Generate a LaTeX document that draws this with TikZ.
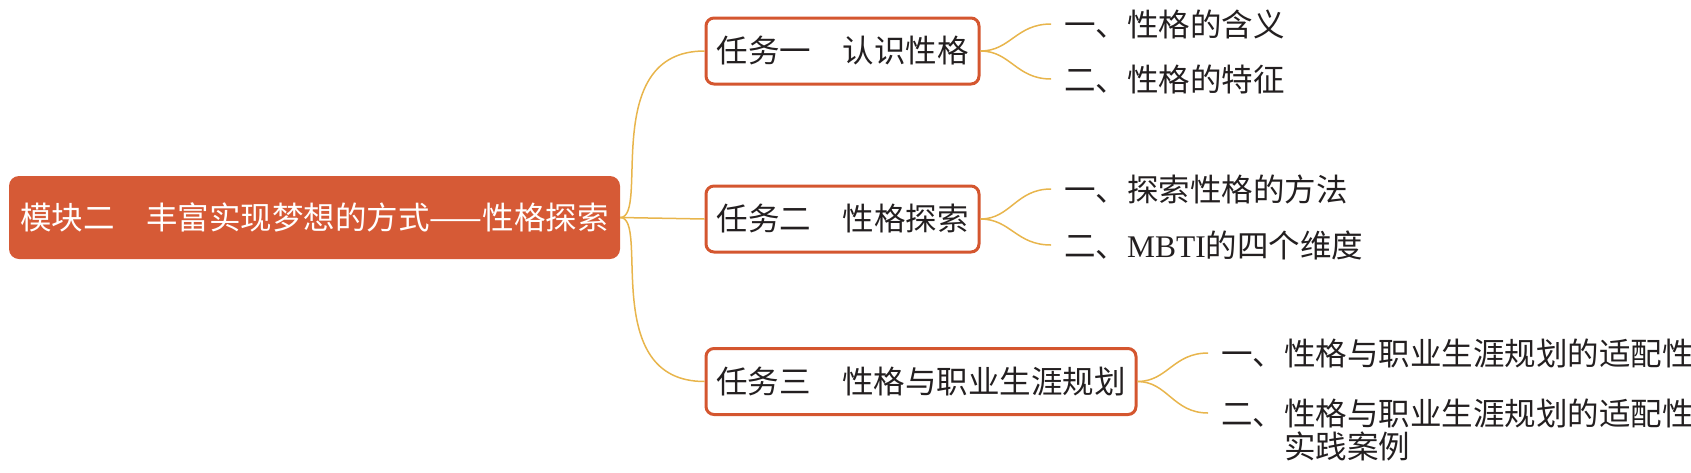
\documentclass[tikz,border=0pt]{standalone}
\usepackage{fontspec}
\newfontfamily\cjk{Noto Sans CJK SC}
\newfontfamily\latserif{Liberation Serif}
\definecolor{rootfill}{HTML}{D65A36}
\definecolor{taskline}{HTML}{D4562F}
\definecolor{branch}{HTML}{E8B54C}
\definecolor{ink}{HTML}{231F20}
\begin{document}
\begin{tikzpicture}[x=1pt,y=-1pt,
  txt/.style={font=\cjk\fontsize{31.5}{34}\selectfont},
  rootbox/.style={txt, fill=rootfill, rounded corners=10pt, text=white,
    minimum width=611pt, minimum height=83pt, inner sep=0pt},
  taskbox/.style={txt, draw=taskline, line width=3pt, fill=white, rounded corners=8pt,
    text=ink, inner sep=0pt, minimum height=66pt},
  leaf/.style={txt, anchor=west, inner xsep=13pt, inner ysep=0pt, text=ink},
  link/.style={draw=branch, line width=1.5pt}]
\useasboundingbox (0,0) rectangle (1691,472);

\node[rootbox] (root) at (314.5,217.5) {模块二　丰富实现梦想的方式——性格探索};

\node[taskbox, minimum width=273pt] (t1) at (842.5,51) {任务一　认识性格};
\node[taskbox, minimum width=273pt] (t2) at (842.5,219) {任务二　性格探索};
\node[taskbox, minimum width=430pt] (t3) at (921,381.5) {任务三　性格与职业生涯规划};

\node[leaf] (l11) at (1051,24) {一、性格的含义};
\node[leaf] (l12) at (1051,79) {二、性格的特征};
\node[leaf] (l21) at (1051,189) {一、探索性格的方法};
\node[leaf] (l22) at (1051,245) {二、{\latserif MBTI}的四个维度};
\node[leaf] (l31) at (1208,353) {一、性格与职业生涯规划的适配性};
\node[leaf] (l32) at (1208,413) {二、性格与职业生涯规划的适配性};
\node[leaf] (l32b) at ([xshift=63pt,yshift=-33pt]l32.west) {实践案例};

\draw[link] (root.east) .. controls +(30,0) and +(-106,0) .. (t1.west);
\draw[link] (root.east) -- (t2.west);
\draw[link] (root.east) .. controls +(30,0) and +(-106,0) .. (t3.west);

\draw[link] (t1.east) .. controls +(30,0) and +(-35,0) .. (l11.west);
\draw[link] (t1.east) .. controls +(30,0) and +(-35,0) .. (l12.west);
\draw[link] (t2.east) .. controls +(30,0) and +(-35,0) .. (l21.west);
\draw[link] (t2.east) .. controls +(30,0) and +(-35,0) .. (l22.west);
\draw[link] (t3.east) .. controls +(30,0) and +(-35,0) .. (l31.west);
\draw[link] (t3.east) .. controls +(30,0) and +(-35,0) .. (l32.west);
\end{tikzpicture}
\end{document}
